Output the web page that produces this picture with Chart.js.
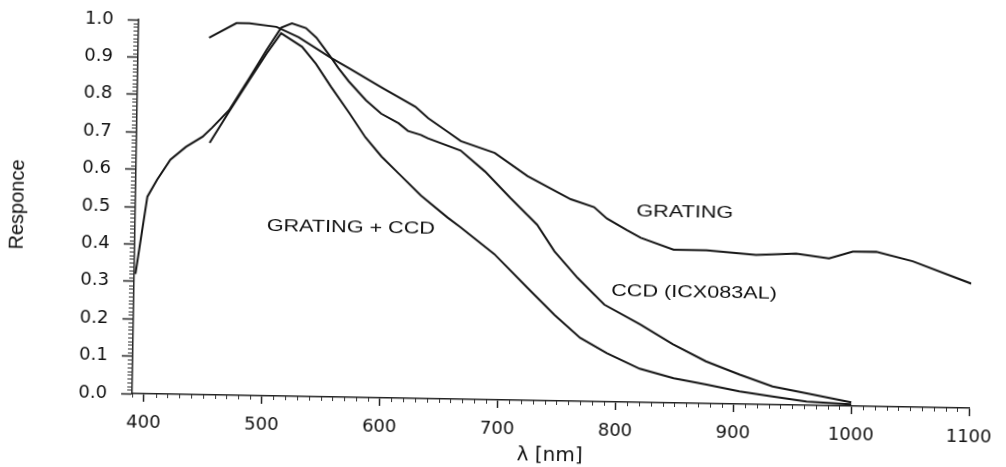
<!DOCTYPE html>
<html>
<head>
<meta charset="utf-8">
<script src="https://cdn.jsdelivr.net/npm/chart.js@4.4.1/dist/chart.umd.min.js"></script>
<style>
  html, body { margin: 0; padding: 0; background: #fff; overflow: hidden; }
  /* the scanned original sits about 1 degree off square */
  #wrap { width: 1006px; height: 467px; transform: rotate(1deg); transform-origin: 503px 233.5px; }
</style>
</head>
<body>
<div id="wrap"><canvas id="c" width="1006" height="467"></canvas></div>
<script>
// wavelength (nm) / response
const gratingNm = [450, 473, 484, 507, 526, 554, 569, 597, 626, 637, 654, 665, 694, 722, 759, 779, 790, 807, 819, 847, 875, 917, 951, 979, 999, 1019, 1050, 1100];
const gratingResp = [0.955, 0.995, 0.995, 0.987, 0.96, 0.906, 0.88, 0.83, 0.78, 0.75, 0.714, 0.69, 0.66, 0.60, 0.54, 0.52, 0.49, 0.46, 0.44, 0.41, 0.41, 0.40, 0.405, 0.394, 0.413, 0.414, 0.39, 0.333];

const ccdNm = [391, 400, 408, 419, 432, 446, 454, 468, 485, 499, 511, 520, 532, 541, 552, 560, 569, 584, 597, 612, 620, 631, 637, 665, 686, 708, 731, 746, 766, 789, 820, 848, 876, 905, 933, 962, 1000];
const ccdResp = [0.32, 0.527, 0.573, 0.627, 0.662, 0.69, 0.715, 0.762, 0.85, 0.925, 0.985, 0.997, 0.985, 0.96, 0.915, 0.88, 0.845, 0.795, 0.76, 0.735, 0.715, 0.705, 0.696, 0.665, 0.61, 0.54, 0.47, 0.40, 0.33, 0.26, 0.208, 0.157, 0.113, 0.079, 0.049, 0.032, 0.01];

const combNm = [452, 468, 485, 499, 511, 529, 541, 554, 570, 584, 598, 613, 632, 655, 666, 695, 724, 747, 769, 792, 820, 849, 877, 905, 933, 962, 1000];
const combResp = [0.674, 0.758, 0.845, 0.915, 0.97, 0.935, 0.89, 0.83, 0.76, 0.696, 0.645, 0.60, 0.543, 0.485, 0.46, 0.39, 0.30, 0.23, 0.17, 0.13, 0.09, 0.066, 0.051, 0.034, 0.022, 0.01, 0.005];

const xTicks = [400, 500, 600, 700, 800, 900, 1000, 1100];
const yTicks = [0.0, 0.1, 0.2, 0.3, 0.4, 0.5, 0.6, 0.7, 0.8, 0.9, 1.0];

// in-plot curve names and where they sit (nm, response)
const labelText = ['GRATING + CCD', 'GRATING', 'CCD (ICX083AL)'];
const labelNm = [573, 856, 865];
const labelResp = [0.453, 0.508, 0.294];

const INK = '#161616';
const pts = (xs, ys) => xs.map((x, i) => ({ x: x, y: ys[i] }));
const lineStyle = { borderColor: INK, borderWidth: 2, pointRadius: 0, tension: 0, fill: false };

// small ticks every 10 nm and every 0.01
const minorTicks = {
  id: 'minorTicks',
  afterDraw(chart) {
    const { ctx, scales: { x, y } } = chart;
    ctx.save();
    ctx.strokeStyle = '#333';
    ctx.lineWidth = 1;
    ctx.beginPath();
    for (let v = 390; v <= 1100; v += 10) {
      if (v % 100 === 0) continue;
      const px = Math.round(x.getPixelForValue(v)) + 0.5;
      ctx.moveTo(px, y.bottom);
      ctx.lineTo(px, y.bottom + 4);
    }
    for (let i = 1; i < 100; i++) {
      if (i % 10 === 0) continue;
      const py = Math.round(y.getPixelForValue(i / 100)) + 0.5;
      ctx.moveTo(x.left - 5, py);
      ctx.lineTo(x.left, py);
    }
    ctx.stroke();
    ctx.restore();
  }
};

const curveLabels = {
  id: 'curveLabels',
  afterDatasetsDraw(chart) {
    const { ctx, scales: { x, y } } = chart;
    ctx.save();
    ctx.font = '16px "Liberation Sans", Arial, sans-serif';
    ctx.fillStyle = '#111';
    ctx.textAlign = 'center';
    ctx.textBaseline = 'middle';
    labelText.forEach((t, i) => {
      ctx.save();
      ctx.translate(x.getPixelForValue(labelNm[i]), y.getPixelForValue(labelResp[i]));
      ctx.scale(1.35, 1);
      ctx.fillText(t, 0, 0);
      ctx.restore();
    });
    ctx.restore();
  }
};

new Chart(document.getElementById('c'), {
  type: 'line',
  data: {
    datasets: [
      { label: 'GRATING', data: pts(gratingNm, gratingResp), ...lineStyle },
      { label: 'CCD (ICX083AL)', data: pts(ccdNm, ccdResp), ...lineStyle },
      { label: 'GRATING + CCD', data: pts(combNm, combResp), ...lineStyle }
    ]
  },
  options: {
    responsive: false,
    animation: false,
    devicePixelRatio: 1,
    layout: { padding: { left: 0, right: 30, top: 26, bottom: 0 } },
    plugins: { legend: { display: false }, tooltip: { enabled: false } },
    scales: {
      x: {
        type: 'linear',
        min: 390,
        max: 1100,
        afterBuildTicks: s => { s.ticks = xTicks.map(v => ({ value: v })); },
        afterFit: s => { s.height = 67; },
        ticks: {
          autoSkip: false, maxRotation: 0, padding: 11, color: '#111',
          font: { family: 'DejaVu Sans', size: 18 },
          callback: v => String(v)
        },
        grid: { drawOnChartArea: false, tickLength: 8, tickColor: '#222', tickWidth: 1.5 },
        border: { color: '#222', width: 1.5 },
        title: {
          display: true, text: 'λ [nm]', color: '#111',
          font: { family: 'DejaVu Sans', size: 20 },
          padding: { top: 4, bottom: 0 }
        }
      },
      y: {
        min: 0,
        max: 1,
        afterBuildTicks: s => { s.ticks = yTicks.map(v => ({ value: v })); },
        afterFit: s => { s.width = 135; },
        ticks: {
          padding: 14, color: '#111',
          font: { family: 'DejaVu Sans', size: 18 },
          callback: v => v.toFixed(1)
        },
        grid: { drawOnChartArea: false, tickLength: 11, tickColor: '#222', tickWidth: 1.5 },
        border: { color: '#222', width: 1.5 },
        title: {
          display: true, text: 'Responce', color: '#111',
          font: { family: 'Liberation Sans', size: 20 },
          padding: { top: 5, bottom: 0 }
        }
      }
    }
  },
  plugins: [minorTicks, curveLabels]
});
</script>
</body>
</html>
